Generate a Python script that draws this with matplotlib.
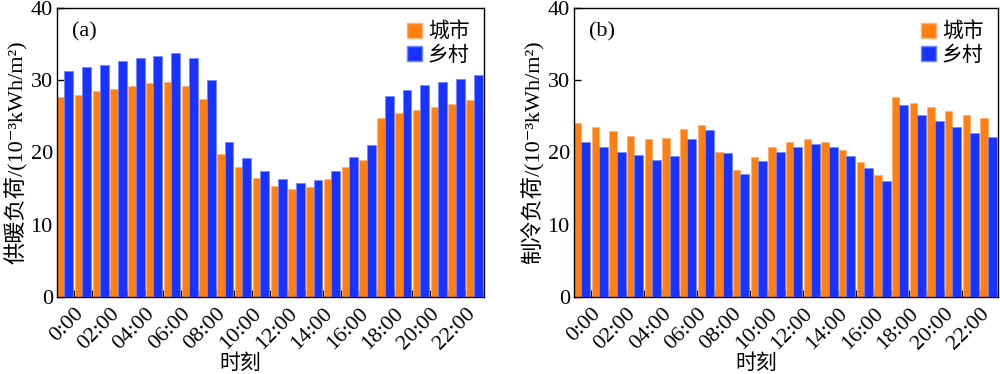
import matplotlib
matplotlib.use("Agg")
import matplotlib.pyplot as plt
import numpy as np
from matplotlib.patches import Patch

plt.rcParams['font.family'] = ['Liberation Serif', 'Noto Sans CJK SC', 'DejaVu Serif']

hours = [f"{h:02d}:00" if h > 0 else "0:00" for h in range(24)]
heat_city = [27.7, 28.0, 28.5, 28.8, 29.2, 29.6, 29.8, 29.2, 27.4, 19.8, 18.0, 16.4,
             15.4, 15.0, 15.2, 16.3, 18.0, 19.0, 24.8, 25.4, 25.9, 26.3, 26.7, 27.2]
heat_rural = [31.3, 31.8, 32.1, 32.6, 33.1, 33.4, 33.8, 33.1, 30.0, 21.5, 19.2, 17.4,
              16.3, 15.8, 16.2, 17.4, 19.4, 21.0, 27.8, 28.6, 29.3, 29.8, 30.2, 30.7]
cool_city = [24.0, 23.5, 22.9, 22.3, 21.8, 22.0, 23.3, 23.8, 20.0, 17.6, 19.4, 20.7,
             21.5, 21.8, 21.5, 20.4, 18.7, 16.9, 27.7, 26.9, 26.3, 25.7, 25.2, 24.7]
cool_rural = [21.4, 20.8, 20.1, 19.7, 19.0, 19.5, 21.8, 23.1, 19.9, 17.0, 18.8, 20.0,
              20.8, 21.1, 20.8, 19.5, 17.8, 16.0, 26.6, 25.2, 24.3, 23.5, 22.7, 22.1]
series_names = ['城市', '乡村']
panel_tags = ['(a)', '(b)']
ylabels = ['供暖负荷/(10⁻³kWh/m²)', '制冷负荷/(10⁻³kWh/m²)']

ORANGE = '#FF7F10'
BLUE = '#1833FF'

fig = plt.figure(figsize=(10, 3.74), dpi=100)
axes = [fig.add_axes([0.057, 0.206, 0.427, 0.773]),
        fig.add_axes([0.574, 0.206, 0.424, 0.773])]

data = [(heat_city, heat_rural), (cool_city, cool_rural)]
x = np.arange(24)
for ax, (c, r), tag, yl in zip(axes, data, panel_tags, ylabels):
    ax.bar(x + 0.21, c, width=0.42, color=ORANGE, edgecolor='#FFB070', linewidth=0.5, zorder=2)
    ax.bar(x + 0.67, r, width=0.50, color=BLUE, edgecolor='#7088FF', linewidth=0.5, zorder=3)
    ax.set_xlim(0, 24)
    ax.set_ylim(0, 40)
    ax.set_yticks([0, 10, 20, 30, 40])
    ax.set_xticks(x + 0.96)
    ax.set_xticklabels([h if i % 2 == 0 else '' for i, h in enumerate(hours)],
                       rotation=45, ha='right', va='top', rotation_mode='anchor')
    ax.tick_params(axis='both', direction='in', length=5, width=1, labelsize=16,
                   top=False, right=False, pad=3)
    ax.tick_params(axis='x', pad=5)
    for s in ax.spines.values():
        s.set_linewidth(1.0)
    ax.set_ylabel(yl, fontsize=16, labelpad=2)
    ax.set_xlabel('时刻', fontsize=15)
    ax.xaxis.label.set_va('center')
    ax.xaxis.set_label_coords(0.43, -0.232)
    ax.text(0.035, 0.95, tag, transform=ax.transAxes, fontsize=16, va='top', ha='left')
    handles = [Patch(facecolor=ORANGE, edgecolor='#FFB070'), Patch(facecolor=BLUE, edgecolor='#7088FF')]
    ax.legend(handles, series_names, loc='upper right', frameon=False, fontsize=15,
              handlelength=0.75, handleheight=0.75, handletextpad=0.25, labelspacing=0.15,
              borderaxespad=0.3, bbox_to_anchor=(1.0, 1.0))

fig.savefig('out.png', dpi=100)
